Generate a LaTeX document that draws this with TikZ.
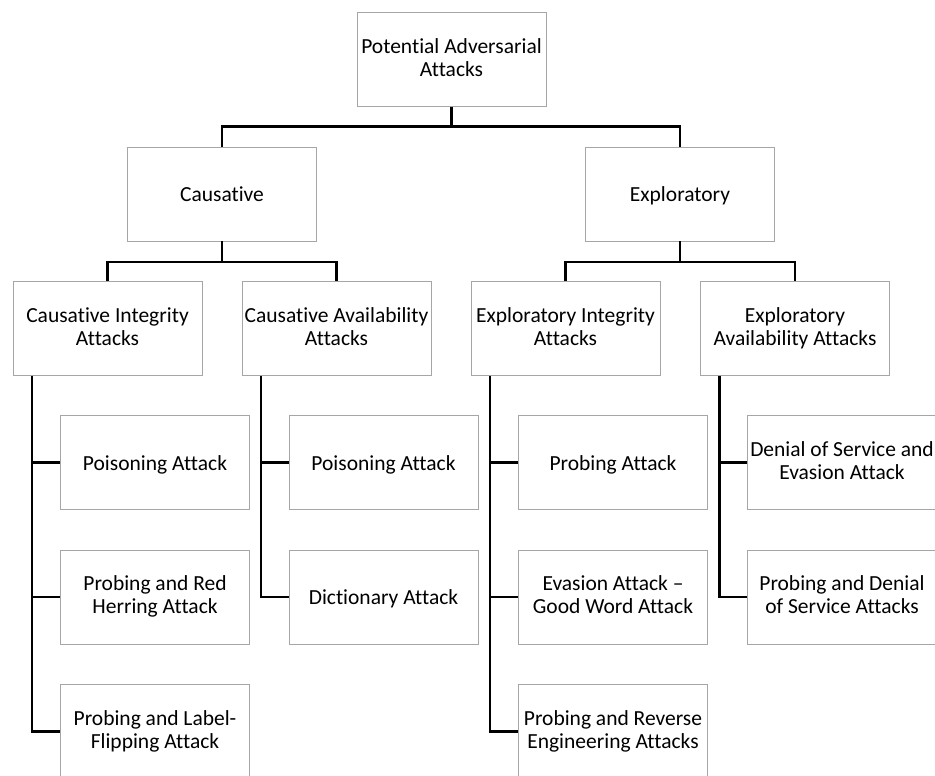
\documentclass[tikz,border=0pt]{standalone}
\usepackage{fontspec}
\setmainfont{Carlito}[Ligatures={NoCommon,TeX}]
\usepackage{tikz}
\usetikzlibrary{positioning,calc}
\newcommand{\boxstrut}{\rule[-4pt]{0pt}{23pt}}
\tikzstyle{box} = [draw=black!35, line width=0.9pt, fill=white, minimum width=189pt, minimum height=94pt, inner sep=1pt, align=center, font=\fontsize{21.5}{23}\selectfont, execute at begin node=\boxstrut, execute at end node=\boxstrut]
\tikzstyle{link} = [line width=2.3pt, black]

\begin{document}
\begin{tikzpicture}[x=1pt,y=-1pt]
\useasboundingbox (0,0) rectangle (935,776);
% upper levels
\node[box] (root) at (451.5,59.5) {Potential Adversarial\\Attacks};
\node[box] (caus) at (222,194) {Causative};
\node[box] (expl) at (680,194) {Exploratory};
\node[box] (cint) at (107.5,328.5) {Causative Integrity\\Attacks};
\node[box] (cavl) at (336.5,328.5) {Causative Availability\\Attacks};
\node[box] (eint) at (565.5,328.5) {Exploratory Integrity\\Attacks};
\node[box] (eavl) at (795,328.5) {Exploratory\\Availability Attacks};
% attacks
\node[box] (cint1) at (155,462.5) {Poisoning Attack};
\node[box] (cint2) at (155,597) {Probing and Red\\Herring Attack};
\node[box] (cint3) at (155,731.5) {Probing and Label-\\Flipping Attack};
\node[box] (cavl1) at (383.5,462.5) {Poisoning Attack};
\node[box] (cavl2) at (383.5,597) {Dictionary Attack};
\node[box] (eint1) at (613,462.5) {Probing Attack};
\node[box] (eint2) at (613,597) {Evasion Attack \textendash\\Good Word Attack};
\node[box] (eint3) at (613,731.5) {Probing and Reverse\\Engineering Attacks};
\node[box] (eavl1) at (842,462.5) {Denial of Service and\\Evasion Attack};
\node[box] (eavl2) at (842,597) {Probing and Denial\\of Service Attacks};
% connectors
\draw[link] (root.south) -- ++(0,19.5) -| (caus.north);
\draw[link] (root.south) -- ++(0,19.5) -| (expl.north);
\draw[link] (caus.south) -- ++(0,20.5) -| (cint.north);
\draw[link] (caus.south) -- ++(0,20.5) -| (cavl.north);
\draw[link] (expl.south) -- ++(0,20.5) -| (eint.north);
\draw[link] (expl.south) -- ++(0,20.5) -| (eavl.north);
\coordinate (cintT) at ([xshift=19.5pt]cint.south west);
\coordinate (cavlT) at ([xshift=19.5pt]cavl.south west);
\coordinate (eintT) at ([xshift=19.5pt]eint.south west);
\coordinate (eavlT) at ([xshift=19.5pt]eavl.south west);
\foreach \n in {1,2,3} \draw[link] (cintT) |- (cint\n.west);
\foreach \n in {1,2} \draw[link] (cavlT) |- (cavl\n.west);
\foreach \n in {1,2,3} \draw[link] (eintT) |- (eint\n.west);
\foreach \n in {1,2} \draw[link] (eavlT) |- (eavl\n.west);
\end{tikzpicture}
\end{document}
